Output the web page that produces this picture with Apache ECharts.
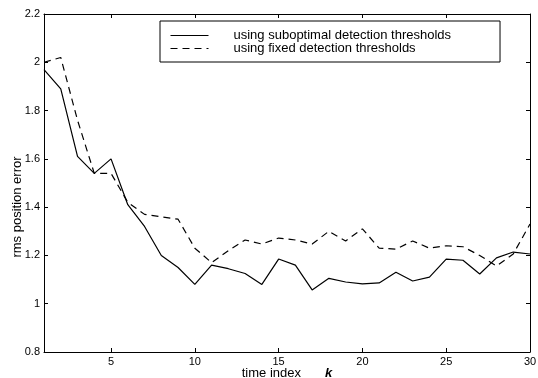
<!DOCTYPE html>
<html>
<head>
<meta charset="utf-8">
<script src="https://cdn.jsdelivr.net/npm/echarts@6/dist/echarts.min.js"></script>
<style>
  html, body { margin: 0; padding: 0; background: #fff; }
  #chart { width: 538px; height: 378px; }
</style>
</head>
<body>
<div id="chart"></div>
<script>
// time index k = 1..30
const timeIndex = [1, 2, 3, 4, 5, 6, 7, 8, 9, 10, 11, 12, 13, 14, 15,
  16, 17, 18, 19, 20, 21, 22, 23, 24, 25, 26, 27, 28, 29, 30];
const suboptimal = [1.97, 1.89, 1.61, 1.54, 1.60, 1.41, 1.32, 1.20, 1.15, 1.08,
  1.16, 1.145, 1.125, 1.08, 1.185, 1.16, 1.057, 1.105, 1.09, 1.082,
  1.086, 1.13, 1.094, 1.11, 1.185, 1.18, 1.123, 1.19, 1.214, 1.206];
const fixed = [2.00, 2.02, 1.76, 1.54, 1.54, 1.42, 1.37, 1.36, 1.35, 1.23,
  1.17, 1.22, 1.264, 1.247, 1.272, 1.264, 1.247, 1.30, 1.26, 1.31,
  1.23, 1.226, 1.26, 1.23, 1.24, 1.236, 1.20, 1.156, 1.206, 1.33];
const xTicks = [5, 10, 15, 20, 25, 30];
const seriesNames = ['using suboptimal detection thresholds', 'using fixed detection thresholds'];

const chart = echarts.init(document.getElementById('chart'));

const font = 'Liberation Sans, Arial, sans-serif';
const axisLine = { show: true, lineStyle: { color: '#000', width: 1 } };
const tickIn = { show: true, inside: true, length: 4, lineStyle: { color: '#000' } };

const option = {
  animation: false,
  backgroundColor: '#fff',
  grid: { left: 44, right: 8, top: 14, bottom: 26, outerBoundsMode: 'none', containLabel: false },
  legend: {
    orient: 'vertical',
    left: 160,
    top: 21,
    padding: [8, 49, 7, 10],
    itemGap: 0,
    itemWidth: 38,
    itemHeight: 12,
    borderColor: '#000',
    borderWidth: 1,
    itemStyle: { opacity: 0 },
    lineStyle: { width: 1 },
    textStyle: { fontFamily: font, fontSize: 13, color: '#000', padding: [0, 0, 0, 20] },
    data: seriesNames
  },
  xAxis: [{
    type: 'value',
    min: 1,
    max: 30,
    axisLine: axisLine,
    axisTick: Object.assign({ customValues: xTicks }, tickIn),
    axisLabel: { customValues: xTicks, color: '#000', fontFamily: font, fontSize: 11, margin: 4 },
    splitLine: { show: false },
    name: '{a|time index}{s|}{b|k}',
    nameLocation: 'middle',
    nameGap: 14,
    nameMoveOverlap: false,
    nameTextStyle: {
      lineHeight: 14,
      rich: {
        a: { fontFamily: font, fontSize: 13, color: '#000', lineHeight: 14 },
        s: { width: 24 },
        b: { fontFamily: font, fontSize: 13, color: '#000', fontStyle: 'italic', fontWeight: 'bold', lineHeight: 14 }
      }
    }
  }, {
    type: 'value',
    position: 'top',
    min: 1,
    max: 30,
    axisLine: axisLine,
    axisTick: Object.assign({ customValues: xTicks }, tickIn),
    axisLabel: { show: false },
    splitLine: { show: false }
  }],
  yAxis: [{
    type: 'value',
    min: 0.8,
    max: 2.2,
    interval: 0.2,
    axisLine: axisLine,
    axisTick: tickIn,
    axisLabel: {
      color: '#000', fontFamily: font, fontSize: 11, margin: 4,
      formatter: v => String(Math.round(v * 10) / 10)
    },
    splitLine: { show: false },
    name: 'rms position error',
    nameLocation: 'middle',
    nameGap: 20,
    nameMoveOverlap: false,
    nameTextStyle: { fontFamily: font, fontSize: 13, color: '#000', padding: [0, 48, 0, 0] }
  }, {
    type: 'value',
    position: 'right',
    min: 0.8,
    max: 2.2,
    interval: 0.2,
    axisLine: axisLine,
    axisTick: tickIn,
    axisLabel: { show: false },
    splitLine: { show: false }
  }],
  series: [{
    name: seriesNames[0],
    type: 'line',
    data: timeIndex.map((k, i) => [k, suboptimal[i]]),
    symbol: 'none',
    lineStyle: { color: '#000', width: 1.2, type: 'solid' },
    itemStyle: { color: '#000' }
  }, {
    name: seriesNames[1],
    type: 'line',
    data: timeIndex.map((k, i) => [k, fixed[i]]),
    symbol: 'none',
    lineStyle: { color: '#000', width: 1.2, type: [7, 5] },
    itemStyle: { color: '#000' }
  }]
};

chart.setOption(option);
</script>
</body>
</html>
